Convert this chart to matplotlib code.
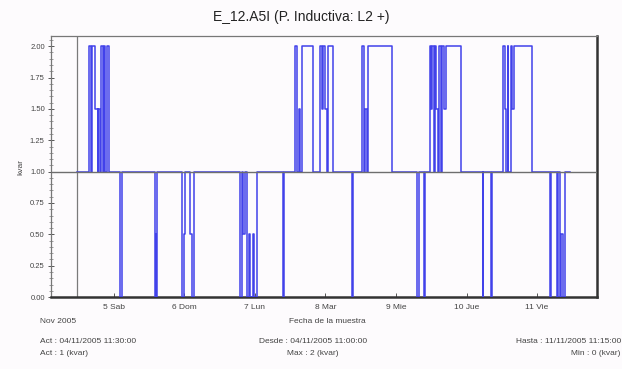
import matplotlib
matplotlib.use("Agg")
import matplotlib.pyplot as plt
import matplotlib.dates as mdates
from matplotlib.ticker import MultipleLocator, FormatStrFormatter
import pandas as pd

plt.rcParams['font.family'] = ['Liberation Sans', 'DejaVu Sans']

# Reactive power samples (kvar): each entry holds from its time until the next one
change_times = [
    "2005-11-04 11:30",
    "2005-11-04 15:30", "2005-11-04 16:15", "2005-11-04 16:30", "2005-11-04 17:45",
    "2005-11-04 18:30", "2005-11-04 18:45", "2005-11-04 19:30", "2005-11-04 19:45",
    "2005-11-04 20:15", "2005-11-04 20:45", "2005-11-04 21:00", "2005-11-04 21:45",
    "2005-11-04 22:30",
    "2005-11-05 02:00", "2005-11-05 02:15", "2005-11-05 02:45",
    "2005-11-05 14:00", "2005-11-05 14:15", "2005-11-05 14:30", "2005-11-05 14:45",
    "2005-11-05 23:15", "2005-11-05 23:45", "2005-11-06 00:15",
    "2005-11-06 02:00", "2005-11-06 02:30", "2005-11-06 03:15",
    "2005-11-06 19:00", "2005-11-06 19:30", "2005-11-06 20:00", "2005-11-06 20:30",
    "2005-11-06 21:15", "2005-11-06 22:00", "2005-11-06 22:30", "2005-11-06 23:15",
    "2005-11-06 23:45", "2005-11-07 00:45",
    "2005-11-07 09:30", "2005-11-07 09:45",
    "2005-11-07 13:45", "2005-11-07 14:30", "2005-11-07 15:00", "2005-11-07 15:30",
    "2005-11-07 16:00", "2005-11-07 19:45", "2005-11-07 22:15", "2005-11-07 22:45",
    "2005-11-07 23:15", "2005-11-07 23:45", "2005-11-08 00:30", "2005-11-08 01:00",
    "2005-11-08 02:30",
    "2005-11-08 09:00", "2005-11-08 09:15",
    "2005-11-08 12:30", "2005-11-08 13:00", "2005-11-08 13:30", "2005-11-08 14:00",
    "2005-11-08 14:30", "2005-11-08 22:45",
    "2005-11-09 07:15", "2005-11-09 07:45", "2005-11-09 09:30", "2005-11-09 09:45",
    "2005-11-09 11:30", "2005-11-09 12:00", "2005-11-09 12:15", "2005-11-09 13:00",
    "2005-11-09 13:15", "2005-11-09 13:45", "2005-11-09 14:15", "2005-11-09 14:45",
    "2005-11-09 15:15", "2005-11-09 15:45", "2005-11-09 16:30", "2005-11-09 17:00",
    "2005-11-09 22:00",
    "2005-11-10 05:30", "2005-11-10 05:45", "2005-11-10 08:15", "2005-11-10 08:30",
    "2005-11-10 12:30", "2005-11-10 13:00", "2005-11-10 13:30", "2005-11-10 14:00",
    "2005-11-10 14:15", "2005-11-10 15:00", "2005-11-10 15:30", "2005-11-10 16:00",
    "2005-11-10 22:15",
    "2005-11-11 04:30", "2005-11-11 04:45", "2005-11-11 06:45", "2005-11-11 07:00",
    "2005-11-11 07:45", "2005-11-11 08:15", "2005-11-11 08:45", "2005-11-11 09:30",
    "2005-11-11 11:15",
]
levels = [
    1,
    2, 1, 2, 1.5,
    1, 1.5, 1, 2,
    1, 2, 1, 2,
    1,
    0.5, 0, 1,
    0, 0.5, 0, 1,
    0, 0.5, 1,
    0.5, 0, 1,
    0, 1, 0.5, 1,
    0, 0.5, 0, 0.5,
    0, 1,
    0, 1,
    2, 1, 1.5, 1,
    2, 1, 2, 1.5,
    2, 1.5, 1, 2,
    1,
    0, 1,
    2, 1, 1.5, 1,
    2, 1,
    0, 1, 0, 1,
    2, 1.5, 2, 1,
    2, 1.5, 1, 2,
    1, 2, 1.5, 2,
    1,
    0, 1, 0, 1,
    2, 1.5, 1, 2,
    1, 2, 1.5, 2,
    1,
    0, 1, 0, 1,
    0, 0.5, 0, 1,
    1,
]

day_ticks = ["2005-11-05", "2005-11-06", "2005-11-07", "2005-11-08",
             "2005-11-09", "2005-11-10", "2005-11-11"]
day_labels = ["5 Sab", "6 Dom", "7 Lun", "8 Mar", "9 Mie", "10 Jue", "11 Vie"]
y_ticks = [0.0, 0.25, 0.5, 0.75, 1.0, 1.25, 1.5, 1.75, 2.0]

times = pd.to_datetime(change_times)
bg = "#fdfbfd"

fig = plt.figure(figsize=(6.22, 3.69), dpi=100, facecolor=bg)
ax = fig.add_axes([0.082, 0.195, 0.878, 0.707], facecolor=bg)

ax.plot(times, levels, drawstyle="steps-post", color="#4141ea", lw=1.1, zorder=3)
ax.axhline(1.0, color="#6e6e6e", lw=1.0, zorder=4)
ax.axvline(times[0], color="#7a7a7a", lw=0.9, zorder=2)

ax.set_xlim(pd.Timestamp("2005-11-04 02:40"), pd.Timestamp("2005-11-11 20:25"))
ax.set_ylim(0, 2.08)

ax.set_xticks(pd.to_datetime(day_ticks))
ax.set_xticklabels(day_labels)
ax.set_yticks(y_ticks)
ax.yaxis.set_major_formatter(FormatStrFormatter("%.2f"))
ax.yaxis.set_minor_locator(MultipleLocator(0.05))
ax.tick_params(axis="x", direction="in", length=3, width=0.7, color="#555555",
               labelsize=6, labelcolor="#444444", pad=5)
ax.tick_params(axis="y", which="major", direction="inout", length=5, width=0.7,
               color="#555555", labelsize=5.5, labelcolor="#444444", pad=2)
ax.tick_params(axis="y", which="minor", direction="inout", length=3, width=0.5,
               color="#777777")

for side in ("left", "top"):
    ax.spines[side].set_color("#777777")
    ax.spines[side].set_linewidth(0.9)
for side in ("right", "bottom"):
    ax.spines[side].set_color("#333333")
    ax.spines[side].set_linewidth(1.8)

fig.text(0.484, 0.953, "E_12.A5I (P. Inductiva: L2 +)", ha="center", va="center",
         fontsize=10, color="#222222")
ax.set_ylabel("kvar", fontsize=6, color="#444444", labelpad=4)

txt = dict(fontsize=6, color="#444444")
fig.text(0.064, 0.128, "Nov 2005", ha="left", va="center", **txt)
fig.text(0.527, 0.128, "Fecha de la muestra", ha="center", va="center", **txt)
fig.text(0.064, 0.075, "Act : 04/11/2005 11:30:00", ha="left", va="center", **txt)
fig.text(0.064, 0.043, "Act : 1 (kvar)", ha="left", va="center", **txt)
fig.text(0.503, 0.075, "Desde : 04/11/2005 11:00:00", ha="center", va="center", **txt)
fig.text(0.503, 0.043, "Max : 2 (kvar)", ha="center", va="center", **txt)
fig.text(0.998, 0.075, "Hasta : 11/11/2005 11:15:00", ha="right", va="center", **txt)
fig.text(0.998, 0.043, "Min : 0 (kvar)", ha="right", va="center", **txt)

fig.savefig("out.png", dpi=100, facecolor=bg)
